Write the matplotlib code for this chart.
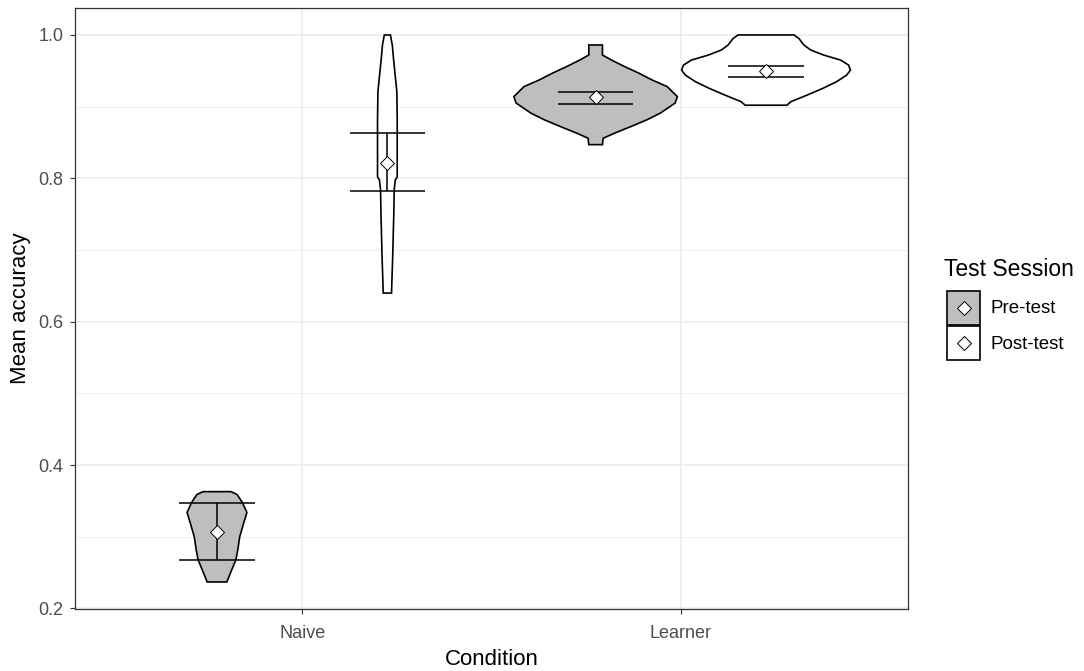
import matplotlib
matplotlib.use("Agg")
import matplotlib.pyplot as plt
from matplotlib.patches import Rectangle, Polygon
import numpy as np

plt.rcParams['font.family'] = ['Liberation Sans', 'DejaVu Sans']

conditions = ["Naive", "Learner"]
sessions = ["Pre-test", "Post-test"]
session_fill = {"Pre-test": "#BEBEBE", "Post-test": "#FFFFFF"}

# violin outlines: accuracy levels and half-widths (x units)
naive_pre_y = [0.237, 0.254, 0.268, 0.282, 0.300, 0.320, 0.334, 0.348, 0.359, 0.363]
naive_pre_w = [0.026, 0.039, 0.050, 0.055, 0.060, 0.071, 0.079, 0.067, 0.053, 0.037]

naive_post_y = [0.640, 0.658, 0.690, 0.752, 0.784, 0.798, 0.802, 0.863, 0.882,
                0.921, 0.947, 0.968, 0.986, 1.000]
naive_post_w = [0.011, 0.012, 0.014, 0.017, 0.018, 0.021, 0.026, 0.026, 0.026,
                0.025, 0.020, 0.016, 0.013, 0.008]

learner_pre_y = [0.847, 0.856, 0.863, 0.872, 0.882, 0.891, 0.905, 0.914, 0.928,
                 0.937, 0.947, 0.956, 0.965, 0.972, 0.986]
learner_pre_w = [0.018, 0.020, 0.050, 0.092, 0.137, 0.171, 0.210, 0.216, 0.189,
                 0.150, 0.113, 0.076, 0.042, 0.018, 0.018]

learner_post_y = [0.902, 0.907, 0.916, 0.926, 0.935, 0.944, 0.951, 0.958, 0.965,
                  0.972, 0.979, 0.986, 0.995, 1.000]
learner_post_w = [0.055, 0.066, 0.108, 0.152, 0.187, 0.213, 0.223, 0.218, 0.197,
                  0.152, 0.118, 0.100, 0.087, 0.074]

# means and error bar limits, order: Naive pre, Naive post, Learner pre, Learner post
means = [0.307, 0.821, 0.913, 0.950]
err_lo = [0.268, 0.783, 0.904, 0.942]
err_hi = [0.347, 0.863, 0.920, 0.957]

violins = [
    (naive_pre_y, naive_pre_w),
    (naive_post_y, naive_post_w),
    (learner_pre_y, learner_pre_w),
    (learner_post_y, learner_post_w),
]

W, H = 1084, 671
fig = plt.figure(figsize=(W / 100, H / 100), dpi=100)
ax = fig.add_axes([75 / W, 1 - 609 / H, 833 / W, 601 / H])

dodge = 0.225
positions = []
fills = []
for i, cond in enumerate(conditions):
    for j, sess in enumerate(sessions):
        positions.append(i + 1 + (dodge if j else -dodge))
        fills.append(session_fill[sess])

for (ys, ws), x, fc in zip(violins, positions, fills):
    ys = np.asarray(ys)
    ws = np.asarray(ws)
    pts = np.concatenate([
        np.column_stack([x - ws, ys]),
        np.column_stack([x + ws, ys])[::-1],
    ])
    ax.add_patch(Polygon(pts, closed=True, facecolor=fc, edgecolor="black",
                         linewidth=1.2, zorder=3))

for x, m, lo, hi in zip(positions, means, err_lo, err_hi):
    ax.vlines(x, lo, hi, color="black", linewidth=1.1, zorder=4)
    ax.hlines([lo, hi], x - 0.1, x + 0.1, color="black", linewidth=1.1, zorder=4)
    ax.plot(x, m, marker="D", markersize=7, markerfacecolor="white",
            markeredgecolor="black", markeredgewidth=0.7, zorder=5)

ax.set_xlim(0.4, 2.6)
ax.set_ylim(0.1993, 1.0376)
ax.set_xticks([1, 2])
ax.set_xticklabels(conditions)
ax.set_yticks([0.2, 0.4, 0.6, 0.8, 1.0])
ax.set_yticklabels(["0.2", "0.4", "0.6", "0.8", "1.0"])
ax.set_yticks([0.3, 0.5, 0.7, 0.9], minor=True)

ax.grid(True, which="major", color="#EBEBEB", linewidth=1.1, zorder=0)
ax.grid(True, which="minor", axis="y", color="#EBEBEB", linewidth=0.6, zorder=0)
ax.set_axisbelow(True)
ax.tick_params(axis="both", which="major", length=3.5, width=0.8, color="#333333",
               labelcolor="#4D4D4D", labelsize=13, pad=5)
ax.tick_params(axis="x", which="major", pad=8)
ax.tick_params(axis="y", which="minor", length=0)
for sp in ax.spines.values():
    sp.set_color("#333333")
    sp.set_linewidth(0.9)

ax.set_xlabel("Condition", fontsize=16, color="black", labelpad=5)
ax.set_ylabel("Mean accuracy", fontsize=16, color="black", labelpad=5)

# legend keys drawn in pixel coordinates
leg = fig.add_axes([930 / W, 1 - 380 / H, 154 / W, 130 / H])
leg.set_xlim(930, 1084)
leg.set_ylim(380, 250)
leg.axis("off")
leg.text(944, 270, "Test Session", fontsize=16.5, va="center", ha="left")
key_top = 291
for k, sess in enumerate(sessions):
    y0 = key_top + k * 35.5
    leg.add_patch(Rectangle((947, y0), 33, 34, facecolor=session_fill[sess],
                            edgecolor="black", linewidth=1.2))
    leg.plot(963.5, y0 + 17, marker="D", markersize=7, markerfacecolor="white",
             markeredgecolor="black", markeredgewidth=0.7)
    leg.text(990, y0 + 18, sess, fontsize=13.5, va="center", ha="left")

fig.savefig("out.png", dpi=100)
